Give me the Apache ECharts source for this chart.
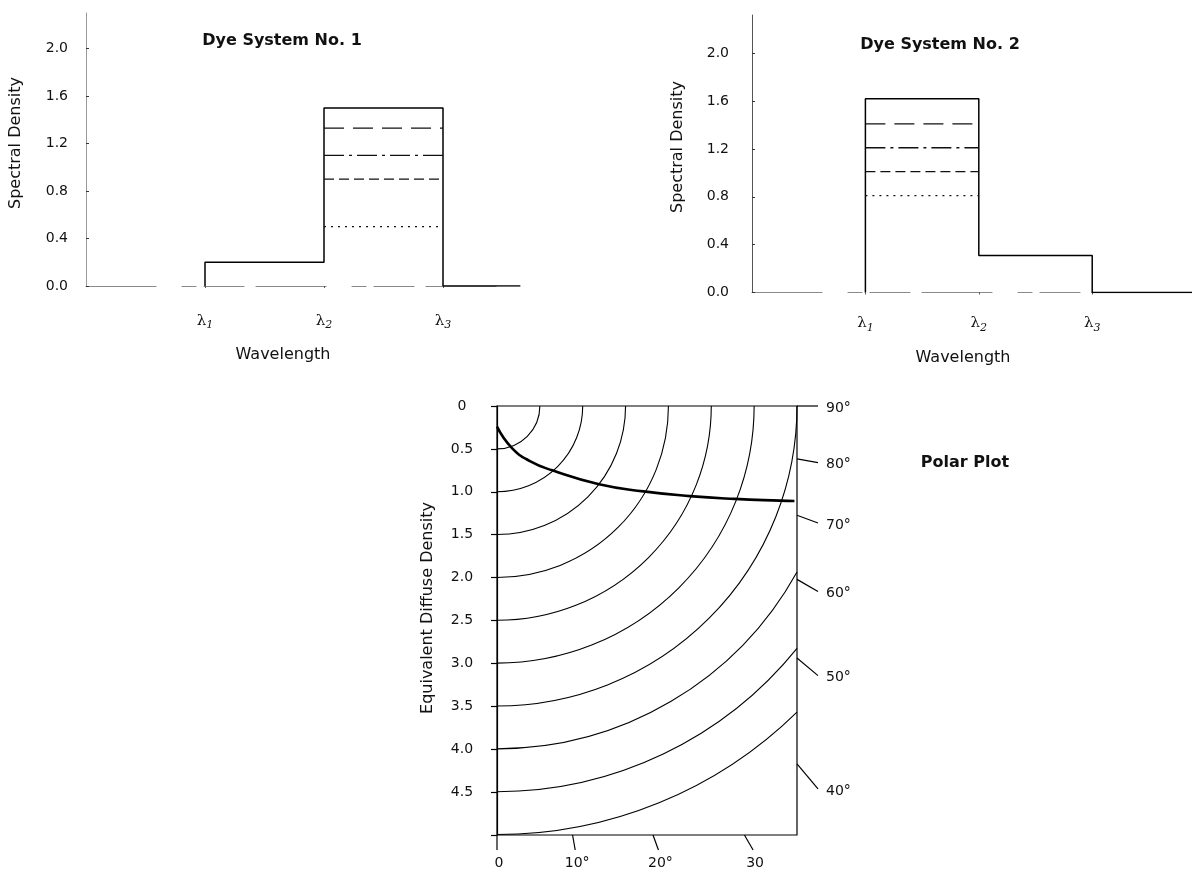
<!DOCTYPE html>
<html>
<head>
<meta charset="utf-8">
<script src="https://cdn.jsdelivr.net/npm/echarts@6/dist/echarts.min.js"></script>
<style>
  html, body { margin: 0; padding: 0; background: #fff; }
  #c { width: 1192px; height: 878px; }
</style>
</head>
<body>
<div id="c"></div>
<script>
// ---- spectral panels -------------------------------------------------------
const lambdaAt = [1, 2, 3];                 // band edges on the wavelength axis
const lambdaSub = ['1', '2', '3'];          // subscripts of the λ tick labels
const densityTicks = [0, 0.4, 0.8, 1.2, 1.6, 2.0];

// Dye System No. 1: density of band λ1–λ2 and band λ2–λ3
const dye1Bands = [0.20, 1.50];
const dye1Levels = [1.33, 1.10, 0.90, 0.50];   // partial levels inside λ2–λ3
// Dye System No. 2
const dye2Bands = [1.62, 0.31];
const dye2Levels = [1.41, 1.21, 1.01, 0.81];   // partial levels inside λ1–λ2

// ---- polar plot --------------------------------------------------------------
const ringDensities = [0.5, 1.0, 1.5, 2.0, 2.5, 3.0, 3.5, 4.0, 4.5, 5.0];
const eddTicks = [0, 0.5, 1.0, 1.5, 2.0, 2.5, 3.0, 3.5, 4.0, 4.5, 5.0];
const eddTickLabels = ['0', '0.5', '1.0', '1.5', '2.0', '2.5', '3.0', '3.5', '4.0', '4.5', ''];
const viewAngles = [0, 10, 20, 30, 40, 50, 60, 70, 80, 90];
const viewAngleLabels = ['0', '10°', '20°', '30', '40°', '50°', '60°', '70°', '80°', '90°'];
const polarCurve = [[0, 0.24], [0.175, 0.49], [0.39, 0.645], [0.645, 0.75],
                    [1.19, 0.912], [1.71, 0.995], [2.25, 1.05], [2.77, 1.083],
                    [3.30, 1.103], [3.47, 1.107]];

const X1_MAX = 3.65, X2_MAX = 3.88;          // wavelength axis extents
const POLAR_W = 3.5, POLAR_H = 5;            // polar box extents

const FONT = 'DejaVu Sans';
const levelDash = [[20, 9], [20, 5, 3, 5], [10, 5], [2, 5]];

function stepPath(bands, xEnd) {
  return [
    [lambdaAt[0], 0], [lambdaAt[0], bands[0]],
    [lambdaAt[1], bands[0]], [lambdaAt[1], bands[1]],
    [lambdaAt[2], bands[1]], [lambdaAt[2], 0],
    [xEnd, 0]
  ];
}

function levelSeries(levels, x0, x1, gi) {
  return levels.map((v, i) => ({
    type: 'line', xAxisIndex: gi, yAxisIndex: gi, symbol: 'none', silent: true,
    data: [[x0, v], [x1, v]],
    lineStyle: { color: '#111', width: 1.3, type: levelDash[i] }
  }));
}

const lambdaLabel = {
  customValues: lambdaAt,
  formatter: v => '{l|λ}{s|' + lambdaSub[lambdaAt.indexOf(v)] + '}',
  rich: {
    l: { fontFamily: 'DejaVu Serif', fontSize: 15, color: '#111', lineHeight: 20 },
    s: { fontFamily: 'DejaVu Serif', fontStyle: 'italic', fontSize: 11, color: '#111',
         verticalAlign: 'bottom', lineHeight: 12 }
  }
};

function densityAxis(gi, max, margin, lineColor) {
  return {
    type: 'value', gridIndex: gi, min: 0, max: max,
    axisLine: { show: true, lineStyle: { color: lineColor, width: 1 } },
    axisTick: { show: true, length: 3, inside: true, customValues: densityTicks,
                lineStyle: { color: '#333' } },
    axisLabel: { customValues: densityTicks, margin: margin, color: '#111',
                 fontFamily: FONT, fontSize: 14, formatter: v => v.toFixed(1) },
    splitLine: { show: false }
  };
}

function wavelengthAxis(gi, max, margin) {
  return {
    type: 'value', gridIndex: gi, min: 0, max: max,
    axisLine: { show: true, lineStyle: { color: '#8a8a8a', width: 1.2, type: [70, 26, 14, 8, 40, 12] } },
    axisTick: { show: true, length: 2, customValues: lambdaAt, lineStyle: { color: '#555' } },
    axisLabel: Object.assign({ margin: margin }, lambdaLabel),
    splitLine: { show: false }
  };
}

const chart = echarts.init(document.getElementById('c'));

function text(t, x, y, bold, rotation) {
  return {
    type: 'text', x: x, y: y, rotation: rotation || 0,
    style: { text: t, fill: '#111', font: (bold ? 'bold ' : '') + '16px "' + FONT + '"',
             align: 'center', verticalAlign: 'middle' }
  };
}

chart.setOption({
  animation: false,
  backgroundColor: '#fff',
  grid: [
    { left: 86, top: 13, width: X1_MAX * 119, height: 273 },
    { left: 752, top: 15, width: 440, height: 277.5 },
    { left: 497, top: 406, width: 300, height: 429, show: true,
      borderColor: '#000', borderWidth: 1.2, backgroundColor: 'transparent' }
  ],
  xAxis: [
    wavelengthAxis(0, X1_MAX, 25),
    wavelengthAxis(1, X2_MAX, 21),
    { type: 'value', gridIndex: 2, min: 0, max: POLAR_W, show: false, splitLine: { show: false } }
  ],
  yAxis: [
    densityAxis(0, 2.3, 18, '#9a9a9a'),
    densityAxis(1, 2.32, 23, '#555'),
    {
      type: 'value', gridIndex: 2, min: 0, max: POLAR_H, interval: 0.5, inverse: true,
      axisLine: { show: true, lineStyle: { color: '#000', width: 1.2 } },
      axisTick: { show: true, length: 6, lineStyle: { color: '#000', width: 1.2 } },
      axisLabel: { margin: 35, align: 'center', color: '#111', fontFamily: FONT, fontSize: 14,
                   formatter: v => eddTickLabels[eddTicks.findIndex(t => Math.abs(t - v) < 1e-6)] || '' },
      splitLine: { show: false }
    }
  ],
  series: [
    { type: 'line', xAxisIndex: 0, yAxisIndex: 0, symbol: 'none', silent: true,
      data: stepPath(dye1Bands, X1_MAX), lineStyle: { color: '#000', width: 1.5 } },
    ...levelSeries(dye1Levels, lambdaAt[1], lambdaAt[2], 0),
    { type: 'line', xAxisIndex: 1, yAxisIndex: 1, symbol: 'none', silent: true,
      data: stepPath(dye2Bands, X2_MAX), lineStyle: { color: '#000', width: 1.5 } },
    ...levelSeries(dye2Levels, lambdaAt[0], lambdaAt[1], 1),

    // constant-density rings around the origin of the polar plot
    {
      type: 'custom', xAxisIndex: 2, yAxisIndex: 2, silent: true,
      data: ringDensities.map(r => [r, 0]),
      renderItem: (params, api) => {
        const r = api.value(0);
        const c = api.coord([0, 0]);
        const rp = api.size([r, 0])[0];
        const wp = api.coord([POLAR_W, 0])[0] - c[0];
        const a0 = rp > wp ? Math.acos(wp / rp) : 0;
        return {
          type: 'arc',
          shape: { cx: c[0], cy: c[1], r: rp, startAngle: a0, endAngle: Math.PI / 2, clockwise: true },
          style: { stroke: '#000', lineWidth: 1.1, fill: null }
        };
      }
    },
    // viewing-angle ticks on the bottom and right edges
    {
      type: 'custom', xAxisIndex: 2, yAxisIndex: 2, silent: true,
      data: viewAngles.map(a => [a, 0]),
      renderItem: (params, api) => {
        const a = api.value(0) * Math.PI / 180;
        const s = Math.sin(a), co = Math.cos(a);
        const tx = s > 1e-9 ? POLAR_W / s : Infinity;
        const ty = co > 1e-9 ? POLAR_H / co : Infinity;
        const onRight = tx <= ty;
        const t = Math.min(tx, ty);
        const p = api.coord([t * s, t * co]);
        const ext = onRight ? 21 / s : 15 / co;
        const q = [p[0] + ext * s, p[1] + ext * co];
        return {
          type: 'group',
          children: [
            { type: 'line', shape: { x1: p[0], y1: p[1], x2: q[0], y2: q[1] },
              style: { stroke: '#000', lineWidth: 1.2 } },
            { type: 'text',
              style: { text: viewAngleLabels[params.dataIndex],
                       x: onRight ? q[0] + 8 : q[0] + 2, y: onRight ? q[1] + 2 : q[1] + 13,
                       align: onRight ? 'left' : 'center', verticalAlign: 'middle',
                       fill: '#111', font: '14px "' + FONT + '"' } }
          ]
        };
      }
    },
    { type: 'line', xAxisIndex: 2, yAxisIndex: 2, symbol: 'none', silent: true,
      smooth: 0.5, data: polarCurve, lineStyle: { color: '#000', width: 2.6 } }
  ],
  graphic: [
    text('Dye System No. 1', 282, 41, true),
    text('Dye System No. 2', 940, 45, true),
    text('Polar Plot', 965, 463, true),
    text('Spectral Density', 16, 143, false, Math.PI / 2),
    text('Spectral Density', 678, 147, false, Math.PI / 2),
    text('Wavelength', 283, 355),
    text('Wavelength', 963, 358),
    text('Equivalent Diffuse Density', 428, 608, false, Math.PI / 2)
  ]
});
</script>
</body>
</html>
